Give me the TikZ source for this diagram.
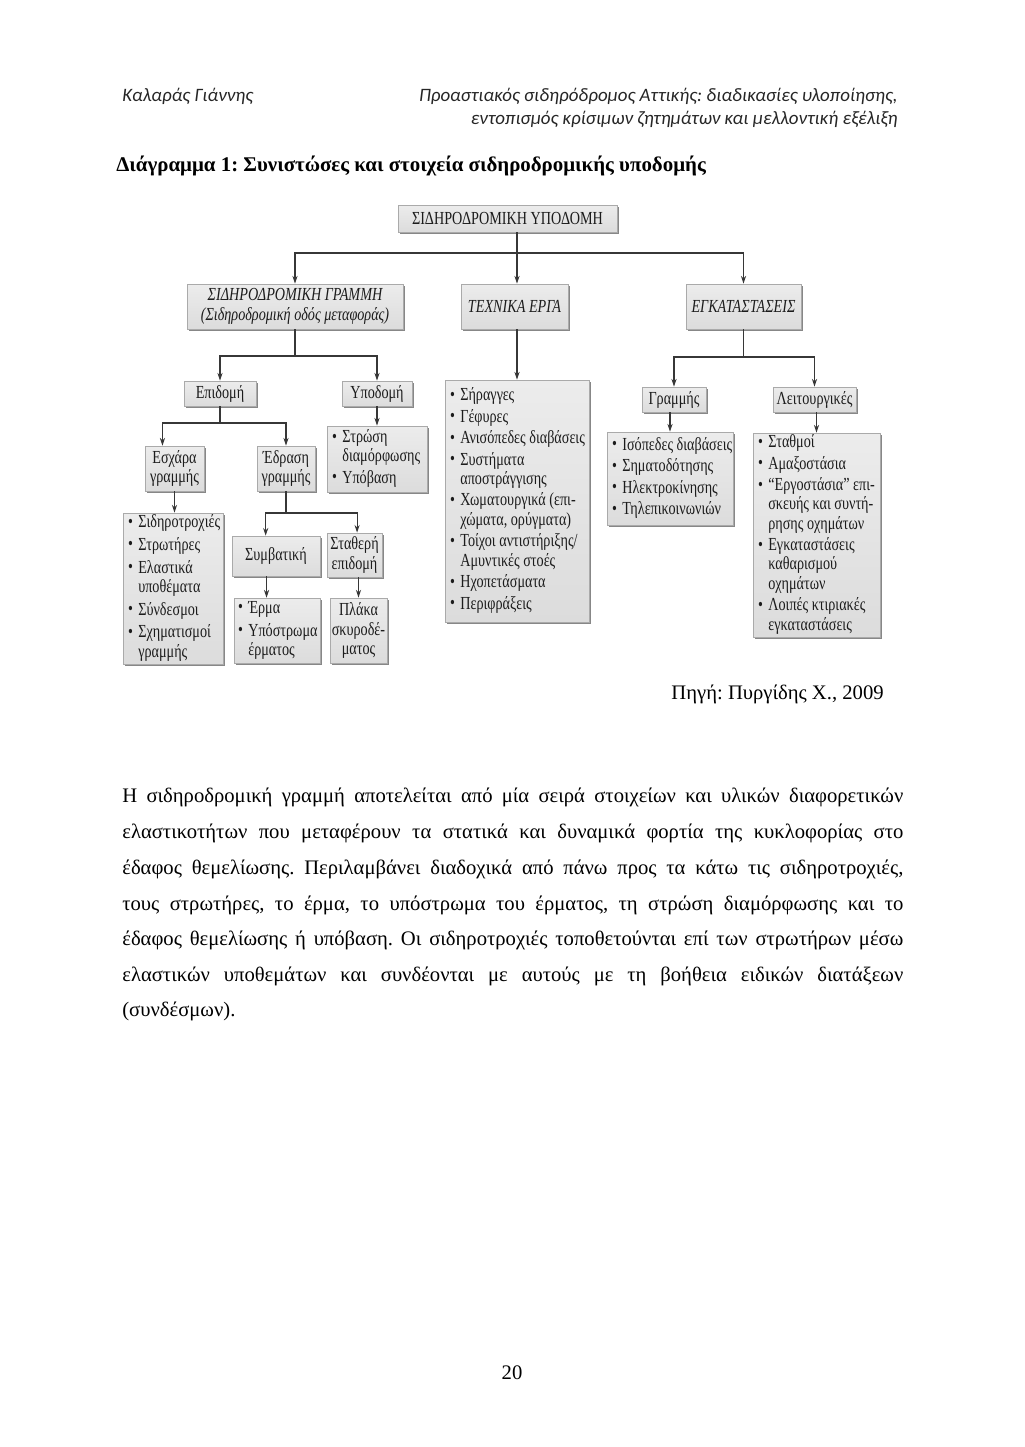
\documentclass[tikz,border=0pt]{standalone}
\usepackage{fontspec}
\setmainfont{Liberation Serif}
\newfontfamily\hdrfont{Carlito}
\newfontfamily\dgfont[FakeStretch=0.77]{Liberation Serif}
\usetikzlibrary{arrows.meta,shadows}
\frenchspacing
\definecolor{boxtop}{RGB}{236,236,236}
\definecolor{boxbot}{RGB}{220,220,220}
\definecolor{boxedge}{RGB}{170,170,170}
\definecolor{linec}{RGB}{55,55,55}
\definecolor{txtc}{RGB}{28,28,28}
\newlength\pxu \setlength\pxu{0.58125pt}
\newlength\bw \setlength\bw{6pt}
\newcommand\dgf{\dgfont\fontsize{10.7}{11.2}\selectfont}
\newcommand\blt{\makebox[\bw][l]{\raisebox{0.05ex}{\fontsize{10.5}{10.5}\selectfont\textbullet}}}
\newcommand\lstb[2]{\makebox[#1\pxu][l]{\begin{tabular}{@{}l@{}l@{}}#2\end{tabular}}}
\newcommand\jline[1]{\makebox[454pt][s]{#1}}
% \pbox[options]{name}{x1}{y1}{x2}{y2}{text}
\newcommand\pbox[7][]{%
  \pgfmathsetmacro\bcx{(#3+#5)/2}%
  \pgfmathsetmacro\bcy{(#4+#6)/2}%
  \pgfmathsetlengthmacro\bwid{(#5-#3)*0.58125pt}%
  \pgfmathsetlengthmacro\bhgt{(#6-#4)*0.58125pt}%
  \node[box,#1,minimum width=\bwid,minimum height=\bhgt,anchor=center] (#2) at (\bcx,\bcy) {#7};}
\tikzset{
  box/.style={top color=boxtop, bottom color=boxbot, draw=boxedge, line width=0.4pt, inner sep=0pt,
    drop shadow={shadow xshift=1.4pt, shadow yshift=-1.4pt, fill=black!55, opacity=0.85},
    font=\dgf, text=txtc},
  ibox/.style={font=\dgf\itshape},
  arr/.style={draw=linec, line width=0.65pt, -{Stealth[length=4.5pt,width=3pt]}},
  lnk/.style={draw=linec, line width=0.65pt},
  hdr/.style={font=\hdrfont\itshape\fontsize{11}{13.4}\selectfont, inner sep=0pt, text=black!85},
  ttl/.style={font=\bfseries\fontsize{12.15}{14}\selectfont, inner sep=0pt},
  body/.style={font=\fontsize{12}{14}\selectfont, inner sep=0pt, anchor=base west},
}
\begin{document}
\begin{tikzpicture}[x=0.58125pt, y=-0.58125pt]
\useasboundingbox (0,0) rectangle (1024,1447);
\fill[white] (0,0) rectangle (1024,1447);

% header
\node[hdr, anchor=base west] (h1) at (122,102) {Καλαράς Γιάννης};
\node[hdr, anchor=base east] (h2) at (898,102) {Προαστιακός σιδηρόδρομος Αττικής: διαδικασίες υλοποίησης,};
\node[hdr, anchor=base east] (h3) at (898,125) {εντοπισμός κρίσιμων ζητημάτων και μελλοντική εξέλιξη};
\node[ttl, anchor=base west] (title) at (116,171) {Διάγραμμα 1: Συνιστώσες και στοιχεία σιδηροδρομικής υποδομής};

% level 0/1
\pbox{top}{398}{205}{617}{232}{ΣΙΔΗΡΟΔΡΟΜΙΚΗ ΥΠΟΔΟΜΗ}
\pbox[ibox, align=center]{sg}{187}{284}{403}{329}{ΣΙΔΗΡΟΔΡΟΜΙΚΗ ΓΡΑΜΜΗ\\(Σιδηροδρομική οδός μεταφοράς)}
\pbox[ibox]{te}{461}{284}{568}{329}{ΤΕΧΝΙΚΑ ΕΡΓΑ}
\pbox[ibox]{eg}{686}{284}{801}{329}{ΕΓΚΑΤΑΣΤΑΣΕΙΣ}

% level 2
\pbox{epi}{184}{381}{256}{406}{Επιδομή}
\pbox{ypo}{342}{381}{412}{406}{Υποδομή}
\pbox{tlist}{445}{380}{589}{622}{\lstb{134}{%
\blt & Σήραγγες\\[1.3pt]
\blt & Γέφυρες\\[1.3pt]
\blt & Ανισόπεδες διαβάσεις\\[1.3pt]
\blt & Συστήματα\\
 & αποστράγγισης\\[1.3pt]
\blt & Χωματουργικά (επι-\\
 & χώματα, ορύγματα)\\[1.3pt]
\blt & Τοίχοι αντιστήριξης/\\
 & Αμυντικές στοές\\[1.3pt]
\blt & Ηχοπετάσματα\\[1.3pt]
\blt & Περιφράξεις}}
\pbox{gram}{642}{387}{706}{412}{Γραμμής}
\pbox{leit}{773}{387}{856}{412}{Λειτουργικές}

% level 3
\pbox[align=center]{esx}{145}{446}{204}{491}{Εσχάρα\\γραμμής}
\pbox[align=center]{edr}{257}{446}{315}{491}{Έδραση\\γραμμής}
\pbox{ylist}{327}{426}{427}{492}{\lstb{90}{%
\blt & Στρώση\\
 & διαμόρφωσης\\[1.3pt]
\blt & Υπόβαση}}
\pbox{glist}{607}{432}{733}{525}{\lstb{116}{%
\blt & Ισόπεδες διαβάσεις\\[1.3pt]
\blt & Σηματοδότησης\\[1.3pt]
\blt & Ηλεκτροκίνησης\\[1.3pt]
\blt & Τηλεπικοινωνιών}}
\pbox{llist}{753}{433}{880}{637}{\lstb{117}{%
\blt & Σταθμοί\\[1.3pt]
\blt & Αμαξοστάσια\\[1.3pt]
\blt & “Εργοστάσια” επι-\\
 & σκευής και συντή-\\
 & ρησης οχημάτων\\[1.3pt]
\blt & Εγκαταστάσεις\\
 & καθαρισμού\\
 & οχημάτων\\[1.3pt]
\blt & Λοιπές κτιριακές\\
 & εγκαταστάσεις}}

% level 4
\pbox{slist}{123}{513}{223}{664}{\lstb{90}{%
\blt & Σιδηροτροχιές\\[2pt]
\blt & Στρωτήρες\\[2pt]
\blt & Ελαστικά\\
 & υποθέματα\\[2pt]
\blt & Σύνδεσμοι\\[2pt]
\blt & Σχηματισμοί\\
 & γραμμής}}
\pbox{symv}{232}{536}{320}{576}{Συμβατική}
\pbox[align=center]{stath}{327}{533}{382}{577}{Σταθερή\\επιδομή}
\pbox{erma}{234}{598}{320}{663}{\lstb{78}{%
\blt & Έρμα\\[2pt]
\blt & Υπόστρωμα\\
 & έρματος}}
\pbox[align=center]{plaka}{330}{598}{387}{663}{Πλάκα\\σκυροδέ-\\ματος}

% connectors
\coordinate (j1) at (517,253);
\draw[arr] (top.south -| j1) -- (j1 |- te.north);
\draw[arr] (j1) -| (sg.north);
\draw[arr] (j1) -| (eg.north);

\coordinate (j2) at (295,356);
\draw[lnk] (sg.south) -- (j2);
\draw[arr] (j2) -| (epi.north);
\draw[arr] (j2) -| (ypo.north);

\draw[arr] (te.south -| j1) -- (j1 |- tlist.north);

\coordinate (j3) at (743.5,357);
\draw[lnk] (eg.south) -- (j3);
\draw[arr] (j3) -| (gram.north);
\draw[arr] (j3) -| (leit.north);
\draw[arr] (gram.south -| glist.north) -- (glist.north);
\draw[arr] (leit.south -| llist.north) -- (llist.north);

\coordinate (j4) at (220,423);
\draw[lnk] (epi.south) -- (j4);
\draw[arr] (j4) -| ([xshift=-7pt]esx.north);
\draw[arr] (j4) -| (edr.north);
\draw[arr] (ypo.south) -- (ypo.south |- ylist.north);
\draw[arr] (esx.south) -- (esx.south |- slist.north);

\coordinate (j5) at (286,513);
\draw[lnk] (edr.south) -- (j5);
\draw[arr] (j5) -| ([xshift=-6pt]symv.north);
\draw[arr] (j5) -| ([xshift=1.5pt]stath.north);
\draw[arr] ([xshift=-5.5pt]symv.south) -- ([xshift=-5.5pt]symv.south |- erma.north);
\draw[arr] (stath.south -| plaka.north) -- (plaka.north);

% source
\node[body, anchor=base east] (src) at (884,699) {Πηγή: Πυργίδης Χ., 2009};

% paragraph
\node[body] (p1) at (122,802) {\jline{Η σιδηροδρομική γραμμή αποτελείται από μία σειρά στοιχείων και υλικών διαφορετικών}};
\node[body] (p2) at (122,838) {\jline{ελαστικοτήτων που μεταφέρουν τα στατικά και δυναμικά φορτία της κυκλοφορίας στο}};
\node[body] (p3) at (122,874) {\jline{έδαφος θεμελίωσης. Περιλαμβάνει διαδοχικά από πάνω προς τα κάτω τις σιδηροτροχιές,}};
\node[body] (p4) at (122,910) {\jline{τους στρωτήρες, το έρμα, το υπόστρωμα του έρματος, τη στρώση διαμόρφωσης και το}};
\node[body] (p5) at (122,945) {\jline{έδαφος θεμελίωσης ή υπόβαση. Οι σιδηροτροχιές τοποθετούνται επί των στρωτήρων μέσω}};
\node[body] (p6) at (122,981) {\jline{ελαστικών υποθεμάτων και συνδέονται με αυτούς με τη βοήθεια ειδικών διατάξεων}};
\node[body] (p7) at (122,1016) {(συνδέσμων).};

% page number
\node[body, anchor=base] (pg) at (512,1379) {20};
\end{tikzpicture}
\end{document}
